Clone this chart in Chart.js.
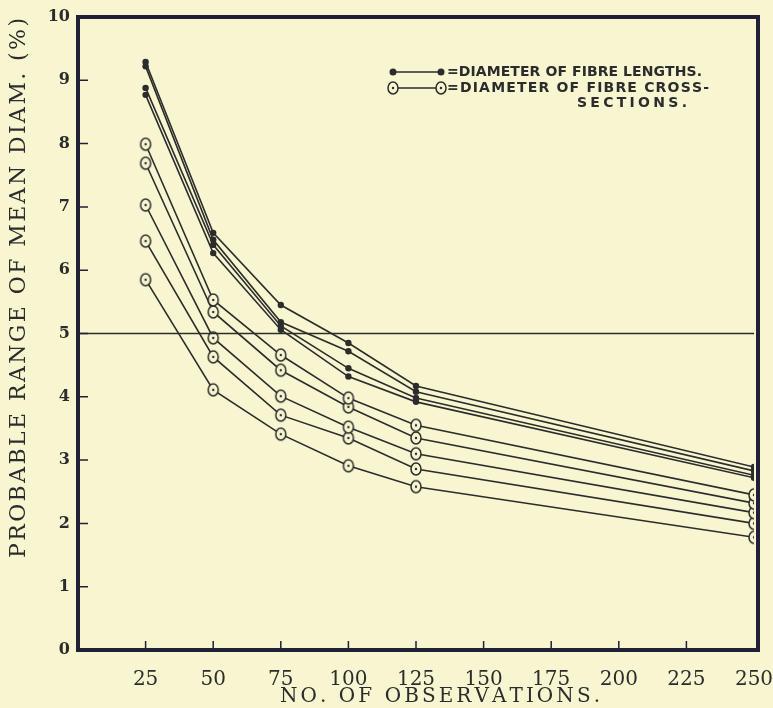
<!DOCTYPE html>
<html>
<head>
<meta charset="utf-8">
<script src="https://cdn.jsdelivr.net/npm/chart.js@4.4.0/dist/chart.umd.min.js"></script>
<style>
  html, body { margin: 0; padding: 0; background: #f8f6d0; }
  #wrap { width: 773px; height: 708px; }
</style>
</head>
<body>
<div id="wrap"><canvas id="graph" width="773" height="708"></canvas></div>
<script>
// values
const observations = [25, 50, 75, 100, 125, 250];

const lengthSeries = [
  [9.29, 6.59, 5.45, 4.85, 4.17, 2.89],
  [9.22, 6.48, 5.18, 4.72, 4.08, 2.83],
  [8.88, 6.40, 5.12, 4.45, 3.98, 2.76],
  [8.77, 6.27, 5.06, 4.32, 3.92, 2.72]
];

const crossSeries = [
  [7.99, 5.53, 4.66, 3.98, 3.55, 2.45],
  [7.69, 5.34, 4.42, 3.84, 3.35, 2.32],
  [7.03, 4.93, 4.01, 3.52, 3.10, 2.17],
  [6.46, 4.63, 3.71, 3.35, 2.86, 2.00],
  [5.85, 4.11, 3.41, 2.91, 2.58, 1.78]
];

const referenceLevel = 5;
const xRange = [0, 250];
const yRange = [0, 10];

const xTitle = 'NO. OF OBSERVATIONS.';
const yTitle = 'PROBABLE RANGE OF MEAN DIAM. (%)';
const legendLines = ['=DIAMETER OF FIBRE LENGTHS.', '=DIAMETER OF FIBRE CROSS-', 'SECTIONS.'];

const paper = '#f8f6d0';
const ink = '#2c2c2c';
const frameInk = '#202038';

function ringPoint() {
  const c = document.createElement('canvas');
  c.width = 14; c.height = 16;
  const g = c.getContext('2d');
  g.beginPath();
  g.ellipse(7, 8, 5, 6, 0, 0, Math.PI * 2);
  g.fillStyle = paper;
  g.fill();
  g.lineWidth = 1.5;
  g.strokeStyle = ink;
  g.stroke();
  g.beginPath();
  g.arc(7, 8, 1.2, 0, Math.PI * 2);
  g.fillStyle = ink;
  g.fill();
  return c;
}
const ring = ringPoint();

function toPoints(values) {
  return values.map((v, i) => ({ x: observations[i], y: v }));
}

const datasets = [];
datasets.push({
  data: [{ x: xRange[0], y: referenceLevel }, { x: xRange[1], y: referenceLevel }],
  borderColor: ink,
  borderWidth: 1.4,
  pointRadius: 0
});
crossSeries.forEach(s => {
  datasets.push({
    data: toPoints(s),
    borderColor: ink,
    borderWidth: 1.6,
    pointStyle: ring,
    pointRadius: 6
  });
});
lengthSeries.forEach(s => {
  datasets.push({
    data: toPoints(s),
    borderColor: ink,
    borderWidth: 1.6,
    pointStyle: 'circle',
    pointRadius: 3.2,
    pointBackgroundColor: ink,
    pointBorderColor: ink,
    pointBorderWidth: 0
  });
});

// draw text with spacing so it fills a given length
function spacedText(ctx, text, cx, cy, length) {
  const widths = [...text].map(ch => ctx.measureText(ch).width);
  const natural = widths.reduce((a, b) => a + b, 0);
  const gap = (length - natural) / (text.length - 1);
  let x = cx - length / 2;
  ctx.textAlign = 'left';
  [...text].forEach((ch, i) => {
    ctx.fillText(ch, x, cy);
    x += widths[i] + gap;
  });
}

const platePlugin = {
  id: 'plate',
  beforeDraw(chart) {
    const ctx = chart.ctx;
    ctx.save();
    ctx.fillStyle = paper;
    ctx.fillRect(0, 0, chart.width, chart.height);
    ctx.restore();
  },
  afterDatasetsDraw(chart) {
    const ctx = chart.ctx;
    const a = chart.chartArea;
    const xs = chart.scales.x, ys = chart.scales.y;
    ctx.save();
    // inward ticks
    ctx.strokeStyle = frameInk;
    ctx.lineWidth = 1.5;
    ctx.beginPath();
    for (let v = yRange[0] + 1; v < yRange[1]; v++) {
      const py = ys.getPixelForValue(v);
      ctx.moveTo(a.left, py);
      ctx.lineTo(a.left + 10, py);
    }
    for (let v = 25; v < xRange[1]; v += 25) {
      const px = xs.getPixelForValue(v);
      ctx.moveTo(px, a.bottom);
      ctx.lineTo(px, a.bottom - 9);
    }
    ctx.stroke();
    // frame
    ctx.lineWidth = 4;
    ctx.strokeRect(a.left, a.top, a.right - a.left + 4, a.bottom - a.top);
    ctx.restore();
  },
  afterDraw(chart) {
    const ctx = chart.ctx;
    ctx.save();
    ctx.fillStyle = ink;
    ctx.textBaseline = 'middle';
    // axis titles
    ctx.font = '20px "DejaVu Serif"';
    spacedText(ctx, xTitle, 440, 697, 320);
    ctx.save();
    ctx.translate(19, 288);
    ctx.rotate(-Math.PI / 2);
    ctx.font = '22px "DejaVu Serif"';
    spacedText(ctx, yTitle, 0, 0, 540);
    ctx.restore();

    // legend
    const rows = [72, 88, 103];
    ctx.strokeStyle = ink;
    ctx.lineWidth = 1.6;
    ctx.beginPath();
    ctx.moveTo(393, rows[0]); ctx.lineTo(441, rows[0]);
    ctx.moveTo(393, rows[1]); ctx.lineTo(441, rows[1]);
    ctx.stroke();
    [393, 441].forEach(x => {
      ctx.beginPath();
      ctx.arc(x, rows[0], 3.5, 0, Math.PI * 2);
      ctx.fill();
      ctx.drawImage(ring, x - 7, rows[1] - 8);
    });
    ctx.font = 'bold 14px "DejaVu Sans"';
    spacedText(ctx, legendLines[0], 447 + 255 / 2, rows[0], 255);
    spacedText(ctx, legendLines[1], 447 + 262 / 2, rows[1], 262);
    spacedText(ctx, legendLines[2], 577 + 110 / 2, rows[2], 110);
    ctx.restore();
  }
};

new Chart(document.getElementById('graph'), {
  type: 'line',
  data: { datasets },
  plugins: [platePlugin],
  options: {
    responsive: false,
    animation: false,
    events: [],
    layout: { padding: { top: 17, right: 19, left: 0, bottom: 0 } },
    plugins: { legend: { display: false }, tooltip: { enabled: false } },
    elements: { line: { tension: 0 } },
    scales: {
      x: {
        type: 'linear',
        min: xRange[0],
        max: xRange[1],
        afterFit: s => { s.height = 58; s.paddingLeft = 0; s.paddingRight = 0; },
        grid: { display: false, drawTicks: false },
        border: { display: false },
        ticks: {
          stepSize: 25,
          autoSkip: false,
          maxRotation: 0,
          padding: 18,
          color: ink,
          font: { family: 'DejaVu Serif', size: 20 },
          callback: v => (v === 0 ? '' : v)
        }
      },
      y: {
        min: yRange[0],
        max: yRange[1],
        afterFit: s => { s.width = 78; s.paddingTop = 0; s.paddingBottom = 0; },
        grid: { display: false, drawTicks: false },
        border: { display: false },
        ticks: {
          stepSize: 1,
          padding: 8,
          color: ink,
          font: { family: 'DejaVu Serif', size: 16, weight: 'bold' }
        }
      }
    }
  }
});
</script>
</body>
</html>
